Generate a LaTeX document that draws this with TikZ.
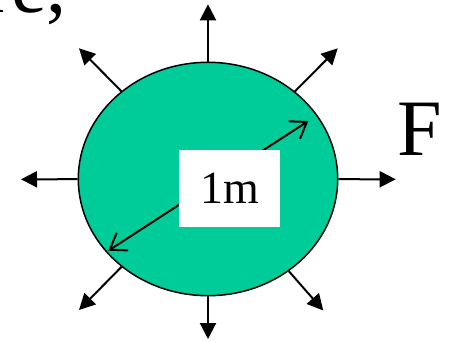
\documentclass[tikz,border=0pt]{standalone}
\usepackage{fontspec}
\setmainfont{Liberation Serif}
\usetikzlibrary{arrows.meta,shapes.geometric}
\definecolor{ballgreen}{RGB}{0,204,153}
\begin{document}
\begin{tikzpicture}[x=1pt,y=-1pt,
  force/.style={line width=2pt,-{Triangle[length=16pt,width=16pt]}},
  diam/.style={line width=2pt,{Straight Barb[length=15pt,width=21pt]}-{Straight Barb[length=15pt,width=21pt]}},
  bigtext/.style={inner sep=0pt,font=\fontsize{80}{90}\selectfont}]
\useasboundingbox (0,0) rectangle (454,341);
\node[ellipse,draw,line width=1.5pt,fill=ballgreen,minimum width=259.4pt,minimum height=233.4pt,inner sep=0pt] (ball) at (208,179) {};
\coordinate (tT) at (208,4.3);
\coordinate (tB) at (208,339);
\coordinate (tL) at (21,179.3);
\coordinate (tR) at (395.7,179.3);
\coordinate (tUL) at (79,48.3);
\coordinate (tUR) at (337.7,48.3);
\coordinate (tLL) at (79,310);
\coordinate (tLR) at (323.3,310.5);
\foreach \t in {tT,tB,tL,tR,tUL,tUR,tLL,tLR} \draw[force] (ball) -- (\t);
\coordinate (d1) at (108.3,250.7);
\coordinate (d2) at (308.3,121);
\draw[diam] (d1) -- (d2);
\node[fill=white,minimum width=101pt,minimum height=76.7pt,inner sep=0pt,font=\fontsize{46}{50}\selectfont] (lbl) at (229.5,188.3) {1m};
\node[bigtext,anchor=base west] (F) at (397,155) {F};
\node[bigtext,anchor=base west] (re) at (-15.6,12) {re,};
\end{tikzpicture}
\end{document}
